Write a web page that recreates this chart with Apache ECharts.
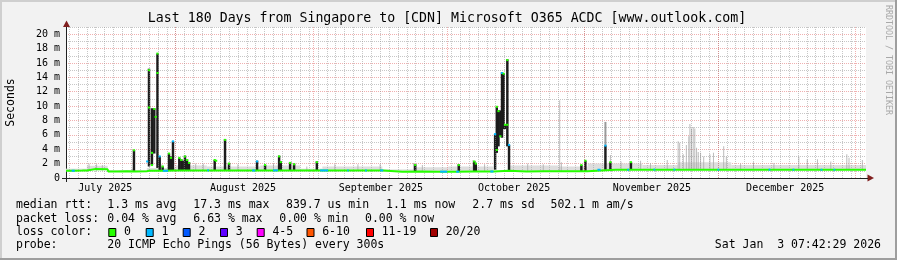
<!DOCTYPE html>
<html><head><meta charset="utf-8">
<script src="https://cdn.jsdelivr.net/npm/echarts@6/dist/echarts.min.js"></script>
<style>html,body{margin:0;padding:0;background:#f2f2f2}#c{width:897px;height:260px}</style>
</head><body><div id="c"></div><script>
// x values are days since 2025-07-01 00:00 (local time)
const xStart = 6.32, xEnd = 186.32;
const monthStartDays = [31, 62, 92, 123, 153, 184];
const monthLabelDays = [15.15, 46.15, 77.15, 107.15, 138.15, 168.15];
const monthLabels = ['July 2025', 'August 2025', 'September 2025', 'October 2025', 'November 2025', 'December 2025'];
const minorGridDays = [];
for (let d = 7; d <= 185; d += 2) minorGridDays.push(d);

// median rtt baseline [day, ms]
const medianLine = [[6.32,1.02],[8,1.0],[10,1.03],[11.05,1.05],[11.1,1.22],[13,1.24],[15.7,1.2],[15.8,0.92],[18,0.9],[20,0.93],[22,0.92],[24.5,0.95],[25,1.0],[28,1.0],[31,1.04],[35,1.05],[40,1.06],[45,1.05],[50,1.04],[55,1.06],[60,1.05],[65,1.05],[70,1.04],[75,1.06],[77.7,1.05],[77.8,0.88],[82,0.87],[86,0.9],[90,0.88],[94,0.88],[98,0.9],[102.5,0.9],[102.6,1.0],[106,1.0],[106.2,0.93],[110,0.92],[114,0.94],[118,0.93],[123.6,0.94],[123.8,1.15],[130,1.15],[136,1.14],[142,1.16],[148,1.15],[154,1.15],[160,1.14],[166,1.16],[172,1.15],[178,1.14],[184,1.15],[186.32,1.15]];
// median segments with 1 lost ping [startDay, endDay, ms]
const blueSegs = [[7.6,8.3,1.01],[28.1,29.3,1.0],[38.1,38.5,1.06],[48.2,48.9,1.04],[52.9,54.0,1.06],[63.5,65.3,1.05],[69.6,69.9,1.04],[73.6,74.0,1.06],[77.0,77.7,1.05],[90.5,92.1,0.88],[94.1,94.8,0.88],[101.8,102.5,0.9],[125.9,126.6,1.15],[132.6,133.0,1.14],[138.5,138.9,1.16],[143.0,143.4,1.16],[152.9,153.3,1.15],[164.4,164.8,1.16],[169.8,170.2,1.15],[176.1,176.5,1.14],[179.0,179.4,1.14]];
// light smoke band [startDay, endDay, low, high]
const smokeBand = [[6.32,11,0.95,1.3],[11,15.7,1.1,1.7],[15.7,24.5,0.88,1.1],[24.5,31,0.95,1.4],[31,38,1.0,1.75],[38,50,1.0,1.6],[50,59,1.0,1.75],[59,64,1.0,1.3],[64,77.5,1.0,1.6],[77.5,84.5,0.85,1.2],[84.5,92.3,0.85,1.5],[92.3,102.5,0.85,1.6],[106,117,0.9,1.75],[117,123.7,0.9,1.6],[123.7,136,1.1,2.0],[136,144,1.1,1.8],[144,156,1.1,2.2],[156,186.32,1.1,1.8]];
// thin light smoke spikes [day, low, high]
const lightSmoke = [[11.5,1.0,2.0],[13.2,1.0,1.9],[14.5,1.0,1.8],[21.2,1.0,1.3],[27.9,1.0,1.9],[35.5,1.0,2.0],[37.2,1.0,2.0],[45.0,1.0,1.9],[51.0,1.0,2.1],[53.0,1.0,2.0],[60.5,1.0,1.6],[66.8,1.0,1.9],[72.0,1.0,1.9],[77.0,1.0,1.95],[84.5,0.9,2.1],[86.5,0.9,1.8],[97.9,0.9,2.5],[100.5,0.9,1.9],[110.2,0.95,2.0],[113.7,0.95,1.9],[117.4,0.95,10.8],[117.78,0.95,2.2],[128.81,2.2,3.2],[131.2,1.15,2.3],[135.6,1.15,2.4],[137.83,1.15,2.1],[141.6,1.15,2.5],[144.05,1.15,5.1],[144.4,1.15,4.9],[145.2,1.15,3.3],[145.9,1.15,4.6],[146.45,1.15,5.8],[146.7,1.15,7.5],[147.06,1.15,6.9],[147.44,1.15,7.1],[147.8,1.15,6.9],[148.2,1.15,4.2],[148.57,1.15,3.6],[149.1,1.15,3.5],[149.8,1.15,3.0],[151.2,1.15,3.3],[152.0,1.15,3.5],[154.3,1.15,4.4],[154.9,1.15,3.0],[158.1,1.15,2.0],[161.0,1.15,2.2],[165.6,1.15,2.1],[171.2,1.15,3.0],[173.1,1.15,2.6],[175.4,1.15,2.6],[178.4,1.15,2.3],[182.0,1.15,3.3],[182.5,1.15,2.8],[185.5,1.15,2.5]];
// medium smoke [day, low, high]
const midSmoke = [[127.69,4.5,7.8]];
// dense (dark) smoke [day, low, high]
const darkSmoke = [[21.61,1.0,3.9],[24.99,1.6,15.2],[25.66,1.8,9.7],[26.18,3.4,9.7],[26.90,1.4,17.3],[27.40,1.0,3.0],[28.07,1.0,1.6],[29.49,1.0,3.4],[29.94,1.0,3.0],[30.39,1.0,5.1],[31.81,1.0,2.8],[32.26,1.0,2.6],[32.58,1.0,2.4],[33.09,1.0,3.1],[33.55,1.0,2.6],[34.00,1.0,2.2],[39.78,1.0,2.5],[42.10,1.0,5.4],[43.00,1.0,2.1],[49.31,1.0,2.4],[51.11,1.0,1.8],[54.27,1.0,3.1],[54.65,1.0,2.3],[56.74,1.0,2.2],[57.64,1.0,2.0],[62.76,1.0,2.3],[84.90,0.9,1.9],[94.69,0.9,1.9],[98.18,0.9,2.35],[98.52,0.9,2.1],[102.87,1.15,6.1],[103.25,3.5,9.9],[103.63,4.4,9.4],[104.04,5.8,9.4],[104.42,5.6,14.7],[104.78,6.8,14.5],[105.10,6.8,7.4],[105.62,4.4,16.5],[106.00,1.0,4.6],[122.28,0.95,1.8],[123.18,0.95,2.4],[127.69,1.15,4.5],[128.81,1.15,2.2],[133.43,1.15,2.2]];
// median marks inside spikes [day, ms, lost pings]
const medTips = [[21.61,3.85,0],[24.6,2.3,1],[24.99,15.0,0],[24.99,9.8,0],[25.66,3.5,0],[25.66,1.8,0],[26.18,9.6,0],[26.5,8.5,0],[26.90,17.3,0],[26.90,14.6,0],[27.40,3.0,1],[28.07,1.6,0],[29.49,3.4,0],[29.94,2.8,0],[30.39,5.1,1],[31.81,2.8,0],[32.26,2.5,0],[33.09,3.0,0],[33.55,2.5,0],[34.0,2.1,0],[39.78,2.5,0],[40.1,2.4,0],[42.10,5.3,0],[43.0,2.0,0],[49.31,2.3,1],[51.11,1.8,0],[54.27,3.0,0],[54.65,2.2,0],[56.74,2.1,0],[57.64,1.9,0],[62.76,2.2,0],[84.90,1.8,0],[94.69,1.8,0],[98.18,2.3,0],[98.52,2.0,0],[102.87,6.1,1],[103.25,9.9,0],[103.25,3.9,0],[103.63,9.3,0],[104.04,5.8,0],[104.42,14.6,1],[104.78,14.5,0],[105.10,7.4,0],[105.62,16.4,0],[105.62,7.4,0],[106.0,4.6,1],[122.28,1.8,0],[123.18,2.4,0],[127.69,4.5,1],[128.81,2.2,0],[133.43,2.2,0]];

const lossLabels = ['0','1','2','3','4-5','6-10','11-19','20/20'];
const lossColors = ['#26ff00','#00b8ff','#0059ff','#5e00ff','#ff00ff','#ff5500','#ff0000','#a00000'];
const legendRows = [
  [['median rtt:',16],['1.3 ms avg',107.3],['17.3 ms max',193.3],['839.7 us min',286],['1.1 ms now',386],['2.7 ms sd',472.3],['502.1 m am/s',550.5]],
  [['packet loss:',16],['0.04 % avg',107.3],['6.63 % max',193.3],['0.00 % min',279.3],['0.00 % now',365]],
  [['loss color:',16]],
  [['probe:',16],['20 ICMP Echo Pings (56 Bytes) every 300s',107.3]]
];
const rowY = [205.3, 218.6, 232, 245.3];
const lossBoxX = [108.3,145.7,182.7,220,256.7,306.5,366,430];
const stamp = 'Sat Jan  3 07:42:29 2026';
const title = 'Last 180 Days from Singapore to [CDN] Microsoft O365 ACDC [www.outlook.com]';

const FONT = '"DejaVu Sans Mono", monospace';
const GRID_C = 'rgba(143,143,143,0.5)';
const MGRID_C = 'rgba(222,79,79,0.45)';

function barRender(wDays, color) {
  return function (params, api) {
    const x = api.value(0), lo = api.value(1), hi = api.value(2);
    const p1 = api.coord([x, hi]), p2 = api.coord([x, lo]);
    const w = Math.max(1, api.size([wDays, 0])[0]);
    return {type: 'rect', shape: {x: p1[0] - w / 2, y: p1[1], width: w, height: p2[1] - p1[1]}, style: {fill: color}};
  };
}
function bandRender(params, api) {
  const p1 = api.coord([api.value(0), api.value(3)]), p2 = api.coord([api.value(1), api.value(2)]);
  return {type: 'rect', shape: {x: p1[0], y: p1[1], width: p2[0] - p1[0], height: p2[1] - p1[1]}, style: {fill: '#dedede'}};
}
function segRender(params, api) {
  const p1 = api.coord([api.value(0), api.value(2)]), p2 = api.coord([api.value(1), api.value(2)]);
  return {type: 'rect', shape: {x: p1[0], y: p1[1] - 1, width: Math.max(1.5, p2[0] - p1[0]), height: 2}, style: {fill: lossColors[1]}};
}
function tipRender(params, api) {
  const p = api.coord([api.value(0), api.value(1)]);
  const w = api.size([0.5, 0])[0];
  return {type: 'rect', shape: {x: p[0] - w / 2, y: p[1] - 1, width: w, height: 2}, style: {fill: lossColors[api.value(2)]}};
}

const graphics = [
  {type: 'rect', shape: {x: 0, y: 0, width: 897, height: 2}, style: {fill: '#cfcfcf'}},
  {type: 'rect', shape: {x: 0, y: 0, width: 2, height: 260}, style: {fill: '#cfcfcf'}},
  {type: 'rect', shape: {x: 0, y: 258, width: 897, height: 2}, style: {fill: '#9e9e9e'}},
  {type: 'rect', shape: {x: 895, y: 0, width: 2, height: 260}, style: {fill: '#9e9e9e'}},
  {type: 'polygon', shape: {points: [[63, 27], [70, 27], [66.5, 20.5]]}, style: {fill: '#801f1f'}, z: 50},
  {type: 'polygon', shape: {points: [[867.5, 174.5], [867.5, 181.5], [874, 178]]}, style: {fill: '#801f1f'}, z: 50},
  {type: 'line', shape: {x1: 66.5, y1: 178, x2: 66.5, y2: 182}, style: {stroke: '#1f1f1f', lineWidth: 1}, z: 50},
  {type: 'line', shape: {x1: 62, y1: 178.5, x2: 868, y2: 178.5}, style: {stroke: '#1f1f1f', lineWidth: 1}, z: 50},
  {type: 'text', x: 447, y: 19, style: {text: title, fontFamily: FONT, fontSize: 13.25, fill: '#000', align: 'center', verticalAlign: 'middle'}, z: 50},
  {type: 'text', x: 11, y: 102.5, rotation: Math.PI / 2, style: {text: 'Seconds', fontFamily: FONT, fontSize: 11.5, fill: '#000', align: 'center', verticalAlign: 'middle'}, z: 50},
  {type: 'text', x: 888, y: 60, rotation: -Math.PI / 2, style: {text: 'RRDTOOL / TOBI OETIKER', fontFamily: FONT, fontSize: 8.3, fill: '#a8a8a8', align: 'center', verticalAlign: 'middle'}, z: 50},
  {type: 'text', x: 881, y: rowY[3], style: {text: stamp, fontFamily: FONT, fontSize: 11.5, fill: '#000', align: 'right', verticalAlign: 'middle'}, z: 50}
];
legendRows.forEach((row, r) => row.forEach(([t, x]) => graphics.push({type: 'text', x: x, y: rowY[r], style: {text: t, fontFamily: FONT, fontSize: 11.5, fill: '#000', align: 'left', verticalAlign: 'middle'}, z: 50})));
lossLabels.forEach((lab, i) => {
  graphics.push({type: 'rect', shape: {x: lossBoxX[i] + 0.5, y: rowY[2] - 3.5, width: 7, height: 8}, style: {fill: lossColors[i], stroke: '#000', lineWidth: 1}, z: 50});
  graphics.push({type: 'text', x: lossBoxX[i] + 15.7, y: rowY[2], style: {text: lab, fontFamily: FONT, fontSize: 11.5, fill: '#000', align: 'left', verticalAlign: 'middle'}, z: 50});
});

const chart = echarts.init(document.getElementById('c'), null, {renderer: 'canvas'});
chart.setOption({
  animation: false,
  backgroundColor: '#f2f2f2',
  grid: {left: 66, right: 31, top: 27, bottom: 82, show: true, backgroundColor: '#ffffff', borderWidth: 0},
  xAxis: {
    type: 'value', min: xStart, max: xEnd,
    axisLine: {show: false},
    axisTick: {show: false},
    splitLine: {show: false},
    axisLabel: {
      customValues: monthLabelDays,
      fontFamily: FONT, fontSize: 10, color: '#000', margin: 5,
      formatter: function (v) {
        let best = 0;
        monthLabelDays.forEach((d, i) => { if (Math.abs(d - v) < Math.abs(monthLabelDays[best] - v)) best = i; });
        return monthLabels[best];
      }
    }
  },
  yAxis: {
    type: 'value', min: 0, max: 21, interval: 1,
    axisLine: {show: true, lineStyle: {color: '#1f1f1f', width: 1}},
    axisTick: {show: false},
    axisLabel: {fontFamily: FONT, fontSize: 10, color: '#000', margin: 6,
      formatter: v => v === 0 ? '0' : (v % 2 ? '' : v + ' m')},
    splitLine: {show: true, lineStyle: {color: [MGRID_C, GRID_C], type: [1, 1], width: 1}}
  },
  series: [
    {type: 'line', data: [[xStart, 0]], showSymbol: false, lineStyle: {opacity: 0}, z: 1, silent: true,
      markLine: {silent: true, symbol: ['none', 'none'], label: {show: false}, animation: false,
        lineStyle: {color: GRID_C, type: [1, 1], width: 1}, data: minorGridDays.map(d => ({xAxis: d}))}},
    {type: 'line', data: [[xStart, 0]], showSymbol: false, lineStyle: {opacity: 0}, z: 1, silent: true,
      markLine: {silent: true, symbol: ['none', 'none'], label: {show: false}, animation: false,
        lineStyle: {color: MGRID_C, type: [1, 1], width: 1}, data: monthStartDays.map(d => ({xAxis: d}))}},
    {type: 'custom', renderItem: bandRender, data: smokeBand, z: 2, silent: true, clip: true},
    {type: 'custom', renderItem: barRender(0.22, 'rgba(170,170,170,0.8)'), data: lightSmoke, z: 3, silent: true, clip: true},
    {type: 'custom', renderItem: barRender(0.45, '#9a9a9a'), data: midSmoke, z: 3, silent: true, clip: true},
    {type: 'custom', renderItem: barRender(0.55, '#1c1c1c'), data: darkSmoke, z: 4, silent: true, clip: true},
    {type: 'line', data: medianLine, showSymbol: false, lineStyle: {color: lossColors[0], width: 2}, z: 5, silent: true},
    {type: 'custom', renderItem: segRender, data: blueSegs, z: 6, silent: true, clip: true},
    {type: 'custom', renderItem: tipRender, data: medTips, z: 7, silent: true, clip: true}
  ],
  graphic: graphics
});
</script></body></html>
